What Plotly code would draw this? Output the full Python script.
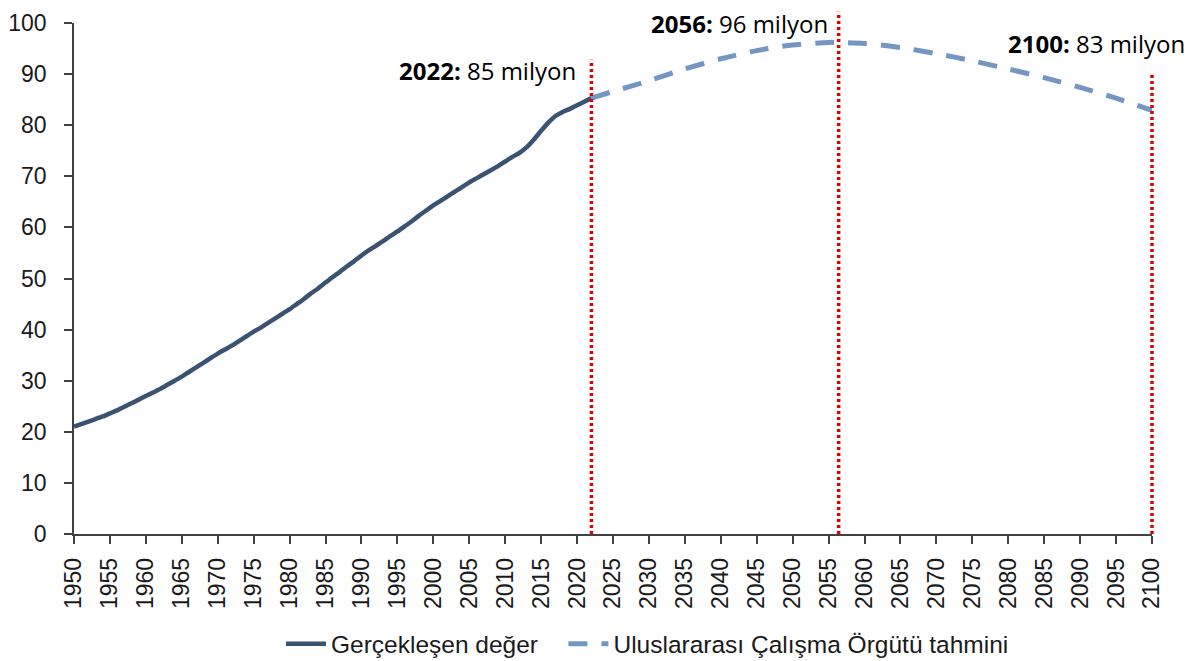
import plotly.graph_objects as go

# ---------------- data ----------------
actual_years = list(range(1950, 2023))
actual_values = [
    21.0, 21.5, 22.0, 22.5, 23.0, 23.6, 24.2, 24.9, 25.6, 26.3,
    27.0, 27.7, 28.4, 29.2, 30.0, 30.8, 31.7, 32.6, 33.5, 34.4,
    35.3, 36.1, 36.9, 37.8, 38.7, 39.6, 40.4, 41.3, 42.2, 43.1,
    44.0, 45.0, 46.0, 47.1, 48.1, 49.2, 50.3, 51.3, 52.4, 53.4,
    54.5, 55.5, 56.4, 57.3, 58.3, 59.2, 60.2, 61.2, 62.3, 63.3,
    64.3, 65.2, 66.1, 67.0, 67.9, 68.8, 69.6, 70.4, 71.2, 72.0,
    72.9, 73.8, 74.6, 75.7, 77.2, 78.9, 80.5, 81.8, 82.6, 83.2,
    83.9, 84.6, 85.3,
]

proj_years = [2022, 2025, 2030, 2035, 2040, 2045, 2050, 2055, 2056, 2060,
              2065, 2070, 2075, 2080, 2085, 2090, 2095, 2100]
proj_values = [85.3, 86.6, 88.7, 91.0, 93.0, 94.6, 95.7, 96.2, 96.2, 96.0,
               95.2, 94.0, 92.6, 91.0, 89.3, 87.4, 85.3, 82.9]

marker_years = [2022, 2056.4, 2100]
marker_tops = [92.8, 102.2, 90.2]
marker_bold = ["2022:", "2056:", "2100:"]
marker_text = ["85 milyon", "96 milyon", "83 milyon"]
label_levels = [90.8, 100.0, 95.9]
label_shift = [-14, -10, 34]

series_names = ["Gerçekleşen değer\u00a0\u00a0\u00a0", "Uluslararası Çalışma Örgütü tahmini"]

x_ticks = list(range(1950, 2101, 5))
y_ticks = list(range(0, 101, 10))

X_MIN, X_MAX = 1950, 2100
Y_MIN, Y_MAX = 0, 100

# ---------------- figure ----------------
fig = go.Figure()

fig.add_trace(go.Scatter(
    x=actual_years, y=actual_values, mode="lines", name=series_names[0],
    line=dict(color="#3B5373", width=4.5, shape="spline", smoothing=0.6),
    cliponaxis=False,
))
fig.add_trace(go.Scatter(
    x=proj_years, y=proj_values, mode="lines", name=series_names[1],
    line=dict(color="#7496C4", width=5, dash="19px,14px", shape="spline", smoothing=0.8),
    cliponaxis=False,
))

for yr, top in zip(marker_years, marker_tops):
    xp = (yr - X_MIN) / (X_MAX - X_MIN)
    fig.add_shape(type="line", xref="paper", yref="paper",
                  x0=xp, x1=xp, y0=0, y1=(top - Y_MIN) / (Y_MAX - Y_MIN),
                  line=dict(color="#E00000", width=3.5, dash="3px,3px"),
                  layer="above")

for yr, b, t, lv, sh in zip(marker_years, marker_bold, marker_text, label_levels, label_shift):
    fig.add_annotation(
        x=yr, y=(lv - Y_MIN) / (Y_MAX - Y_MIN), xref="x", yref="paper",
        xanchor="right", yanchor="middle", borderpad=0,
        xshift=sh, showarrow=False,
        text=f"<b>{b}</b> {t}",
        font=dict(family="'Open Sans', Lato, sans-serif", size=24, color="#000000"),
    )

axis_font = dict(family="Liberation Sans, Arial, sans-serif", size=23, color="#1a1a1a")

fig.update_xaxes(
    range=[X_MIN, X_MAX], tickmode="array", tickvals=x_ticks,
    ticktext=[str(v) for v in x_ticks], tickangle=-90,
    showline=True, linecolor="#404040", linewidth=1.5,
    ticks="outside", ticklen=8, tickcolor="#404040", tickwidth=1.5,
    showgrid=False, zeroline=False, tickfont=axis_font, automargin=False,
    ticklabelstandoff=5,
)
fig.update_yaxes(
    range=[Y_MIN, Y_MAX], tickmode="array", tickvals=y_ticks,
    showline=True, linecolor="#404040", linewidth=1.5,
    ticks="outside", ticklen=8, tickcolor="#404040", tickwidth=1.5,
    showgrid=False, zeroline=False, tickfont=axis_font, automargin=False,
    ticklabelstandoff=13,
)

fig.update_layout(
    width=1188, height=653,
    margin=dict(l=66, r=44, t=15, b=127, autoexpand=False),
    paper_bgcolor="white", plot_bgcolor="white",
    showlegend=True,
    legend=dict(
        orientation="h", x=0.532, xanchor="center", y=-0.215, yanchor="middle",
        font=dict(family="Liberation Sans, Arial, sans-serif", size=24.5, color="#1a1a1a"),
        itemwidth=40, bgcolor="rgba(0,0,0,0)",
    ),
)

fig.write_html("out.html")
